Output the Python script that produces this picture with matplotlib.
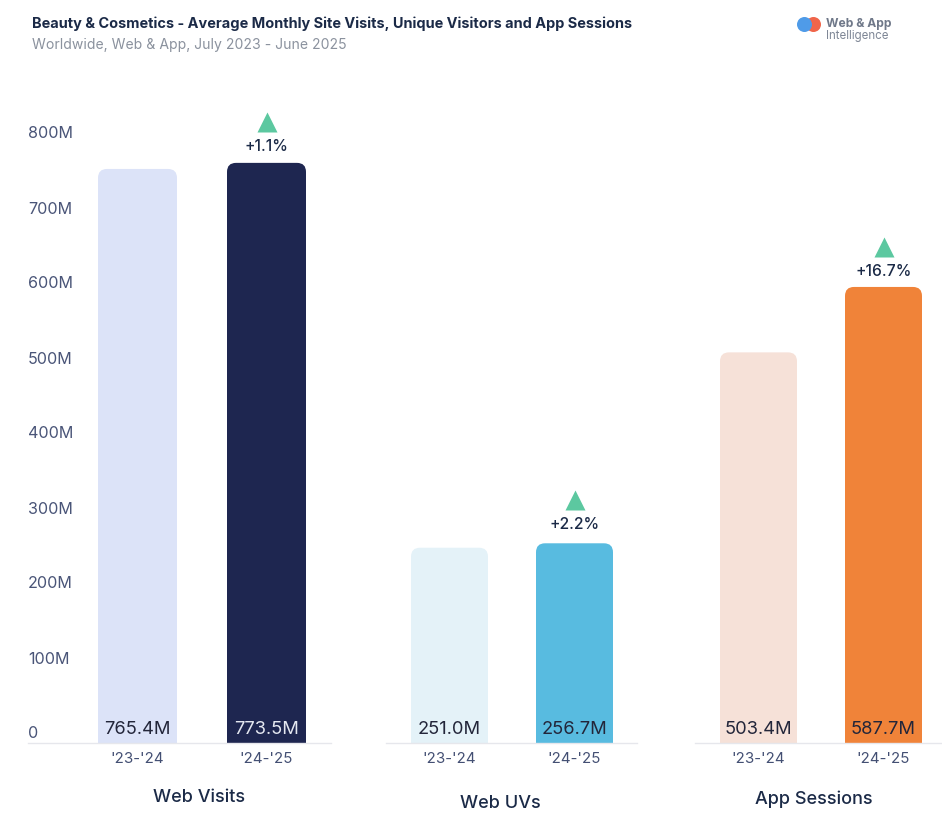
import matplotlib
matplotlib.use('Agg')
import matplotlib.pyplot as plt
from matplotlib.patches import FancyBboxPatch, Circle
from matplotlib.transforms import ScaledTranslation

plt.rcParams['font.family'] = ['Inter', 'DejaVu Sans']

periods = ["'23-'24", "'24-'25"]
panels = ['Web Visits', 'Web UVs', 'App Sessions']
web_visits = [765.4, 773.5]
web_uvs = [251.0, 256.7]
app_sessions = [503.4, 587.7]
changes = ['+1.1%', '+2.2%', '+16.7%']
yticks = [0, 100, 200, 300, 400, 500, 600, 700, 800]
ytick_labels = ['0', '100M', '200M', '300M', '400M', '500M', '600M', '700M', '800M']
light_colors = ['#dce3f8', '#e4f2f8', '#f6e1d8']
dark_colors = ['#1e2650', '#58bbe0', '#f08339']
value_colors = [['#23263a', '#e4e7f0'], ['#23263a', '#23263a'], ['#23263a', '#23263a']]

W, H = 942, 818
BASE = 743
TOP = 60
PT = 0.72


def px_axes(x0, x1):
    return [x0 / W, (H - BASE) / H, (x1 - x0) / W, (BASE - TOP) / H]


fig = plt.figure(figsize=(W / 100, H / 100), dpi=100)

# x range of each axes in px, bar centres, bar width, px per million
layout = [
    (28, 331, 137.5, 266.5, 79, 0.75),
    (386, 637, 449.5, 574.5, 77, 0.778),
    (695, 942, 758.5, 883.5, 77, 0.776),
]
series = [web_visits, web_uvs, app_sessions]
label_pos = [(199, 798), (500, 803), (814, 799)]
change_offset = [16, 19, 15]
triangle_offset = [41, 43, 40]

for i, (x0, x1, c0, c1, bw, scale) in enumerate(layout):
    ax = fig.add_axes(px_axes(x0, x1))
    gap = c1 - c0
    ax.set_xlim((x0 - c0) / gap, (x1 - c0) / gap)
    ax.set_ylim(0, (BASE - TOP) / scale)
    width = bw / gap
    radius = 9 / gap
    aspect = (gap / scale)
    for j, val in enumerate(series[i]):
        color = light_colors[i] if j == 0 else dark_colors[i]
        patch = FancyBboxPatch((j - width / 2 + radius, -50), width - 2 * radius, val + 50 - radius * aspect,
                               boxstyle='round,pad=%f,rounding_size=%f' % (radius, radius),
                               mutation_aspect=aspect, fc=color, ec='none')
        ax.add_patch(patch)
        ax.annotate('%.1fM' % val, (j, 0), xytext=(0, 14 * PT), textcoords='offset points',
                    ha='center', va='center', fontsize=13.2, fontweight='normal', color=value_colors[i][j])

    top = series[i][1]
    ax.plot([1], [top + triangle_offset[i] / scale], marker='^', ms=15, color='#5cc8a0', mec='none', clip_on=False)
    ax.annotate(changes[i], (1, top), xytext=(0, change_offset[i] * PT), textcoords='offset points',
                ha='center', va='center', fontsize=11.3, fontweight='medium', color='#1b2a47')

    for s in ['top', 'left', 'right']:
        ax.spines[s].set_visible(False)
    ax.spines['bottom'].set_color('#e6e7ec')
    ax.spines['bottom'].set_linewidth(1)
    ax.patch.set_alpha(0)
    ax.set_xticks([0, 1])
    ax.set_xticklabels(periods)
    ax.tick_params(axis='x', length=0, pad=6.3, labelsize=10.8, labelcolor='#434f73')

    if i == 0:
        ax.set_yticks(yticks)
        ax.set_yticklabels(ytick_labels)
        ax.tick_params(axis='y', length=0, pad=0, labelsize=11.6, labelcolor='#4a5578')
        offset = ScaledTranslation(0, 9 / 100, fig.dpi_scale_trans)
        for lab in ax.get_yticklabels():
            lab.set_horizontalalignment('left')
            lab.set_verticalalignment('center')
            lab.set_transform(lab.get_transform() + offset)
    else:
        ax.set_yticks([])

    lx, ly = label_pos[i]
    fig.text(lx / W, 1 - ly / H, panels[i], ha='center', va='center', fontsize=13,
             fontweight='medium', color='#1b2a47')

fig.text(32 / W, 1 - 24 / H, 'Beauty & Cosmetics - Average Monthly Site Visits, Unique Visitors and App Sessions',
         ha='left', va='center', fontsize=10.45, fontweight='bold', color='#1b2a47')
fig.text(32 / W, 1 - 45 / H, 'Worldwide, Web & App, July 2023 - June 2025',
         ha='left', va='center', fontsize=10.1, color='#8b929e')

# logo
logo = fig.add_axes([0, 0, 1, 1], zorder=5)
logo.set_xlim(0, W)
logo.set_ylim(H, 0)
logo.axis('off')
logo.add_patch(Circle((813.5, 24.5), 7.5, fc='#f0654a', ec='none'))
logo.add_patch(Circle((804.5, 24.5), 7.5, fc='#4f9be8', ec='none'))
fig.text(826 / W, 1 - 24 / H, 'Web & App', ha='left', va='center', fontsize=8.7, fontweight='bold', color='#6f7889')
fig.text(826 / W, 1 - 36 / H, 'Intelligence', ha='left', va='center', fontsize=8.3, color='#7f8796')

fig.savefig('out.png', dpi=100)
